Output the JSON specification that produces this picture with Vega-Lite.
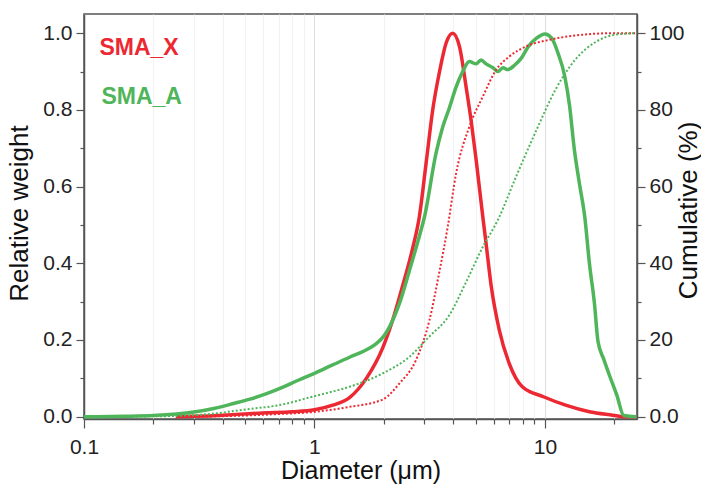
{
  "$schema": "https://vega.github.io/schema/vega-lite/v6.json",
  "width": 553,
  "height": 405,
  "autosize": {"type": "none"},
  "padding": {"left": 84, "top": 14, "right": 64, "bottom": 65},
  "background": "white",
  "config": {
    "font": "Liberation Sans",
    "view": {"stroke": "#555555", "strokeWidth": 1.5},
    "axis": {"domainColor": "#555555", "tickColor": "#555555", "domainWidth": 1.5, "tickWidth": 1.2, "labelColor": "#222222", "titleColor": "#111111", "labelFont": "Liberation Sans", "titleFont": "Liberation Sans", "labelFontSize": 21, "titleFontSize": 26, "titleFontWeight": "normal"}
  },
  "datasets": {
    "weight": [
      {"d": 0.25, "v": 0.0, "s": "SMA_X"},
      {"d": 0.3, "v": 0.001, "s": "SMA_X"},
      {"d": 0.4, "v": 0.004, "s": "SMA_X"},
      {"d": 0.52, "v": 0.008, "s": "SMA_X"},
      {"d": 0.62, "v": 0.01, "s": "SMA_X"},
      {"d": 0.8, "v": 0.013, "s": "SMA_X"},
      {"d": 1.0, "v": 0.018, "s": "SMA_X"},
      {"d": 1.2, "v": 0.03, "s": "SMA_X"},
      {"d": 1.42, "v": 0.05, "s": "SMA_X"},
      {"d": 1.68, "v": 0.1, "s": "SMA_X"},
      {"d": 1.98, "v": 0.18, "s": "SMA_X"},
      {"d": 2.18, "v": 0.25, "s": "SMA_X"},
      {"d": 2.41, "v": 0.34, "s": "SMA_X"},
      {"d": 2.67, "v": 0.44, "s": "SMA_X"},
      {"d": 2.85, "v": 0.52, "s": "SMA_X"},
      {"d": 3.05, "v": 0.66, "s": "SMA_X"},
      {"d": 3.26, "v": 0.8, "s": "SMA_X"},
      {"d": 3.49, "v": 0.9, "s": "SMA_X"},
      {"d": 3.73, "v": 0.975, "s": "SMA_X"},
      {"d": 3.98, "v": 1.0, "s": "SMA_X"},
      {"d": 4.26, "v": 0.965, "s": "SMA_X"},
      {"d": 4.55, "v": 0.86, "s": "SMA_X"},
      {"d": 4.79, "v": 0.77, "s": "SMA_X"},
      {"d": 5.03, "v": 0.67, "s": "SMA_X"},
      {"d": 5.38, "v": 0.52, "s": "SMA_X"},
      {"d": 5.56, "v": 0.45, "s": "SMA_X"},
      {"d": 5.85, "v": 0.34, "s": "SMA_X"},
      {"d": 6.34, "v": 0.226, "s": "SMA_X"},
      {"d": 7.0, "v": 0.139, "s": "SMA_X"},
      {"d": 7.98, "v": 0.078, "s": "SMA_X"},
      {"d": 9.86, "v": 0.052, "s": "SMA_X"},
      {"d": 12.3, "v": 0.03, "s": "SMA_X"},
      {"d": 15.6, "v": 0.013, "s": "SMA_X"},
      {"d": 19.7, "v": 0.004, "s": "SMA_X"},
      {"d": 22.0, "v": 0.0, "s": "SMA_X"},
      {"d": 25.0, "v": 0.0, "s": "SMA_X"},
      {"d": 0.1, "v": 0.0, "s": "SMA_A"},
      {"d": 0.15, "v": 0.001, "s": "SMA_A"},
      {"d": 0.2, "v": 0.003, "s": "SMA_A"},
      {"d": 0.3, "v": 0.012, "s": "SMA_A"},
      {"d": 0.37, "v": 0.022, "s": "SMA_A"},
      {"d": 0.45, "v": 0.035, "s": "SMA_A"},
      {"d": 0.52, "v": 0.045, "s": "SMA_A"},
      {"d": 0.62, "v": 0.06, "s": "SMA_A"},
      {"d": 0.73, "v": 0.077, "s": "SMA_A"},
      {"d": 0.85, "v": 0.095, "s": "SMA_A"},
      {"d": 1.0, "v": 0.113, "s": "SMA_A"},
      {"d": 1.2, "v": 0.135, "s": "SMA_A"},
      {"d": 1.42, "v": 0.155, "s": "SMA_A"},
      {"d": 1.65, "v": 0.172, "s": "SMA_A"},
      {"d": 1.85, "v": 0.19, "s": "SMA_A"},
      {"d": 2.0, "v": 0.21, "s": "SMA_A"},
      {"d": 2.12, "v": 0.235, "s": "SMA_A"},
      {"d": 2.34, "v": 0.296, "s": "SMA_A"},
      {"d": 2.58, "v": 0.38, "s": "SMA_A"},
      {"d": 2.85, "v": 0.47, "s": "SMA_A"},
      {"d": 3.0, "v": 0.52, "s": "SMA_A"},
      {"d": 3.37, "v": 0.687, "s": "SMA_A"},
      {"d": 3.6, "v": 0.755, "s": "SMA_A"},
      {"d": 3.85, "v": 0.805, "s": "SMA_A"},
      {"d": 4.12, "v": 0.86, "s": "SMA_A"},
      {"d": 4.4, "v": 0.9, "s": "SMA_A"},
      {"d": 4.7, "v": 0.926, "s": "SMA_A"},
      {"d": 5.03, "v": 0.92, "s": "SMA_A"},
      {"d": 5.28, "v": 0.93, "s": "SMA_A"},
      {"d": 5.56, "v": 0.92, "s": "SMA_A"},
      {"d": 5.95, "v": 0.91, "s": "SMA_A"},
      {"d": 6.25, "v": 0.9, "s": "SMA_A"},
      {"d": 6.58, "v": 0.91, "s": "SMA_A"},
      {"d": 6.9, "v": 0.905, "s": "SMA_A"},
      {"d": 7.4, "v": 0.917, "s": "SMA_A"},
      {"d": 7.9, "v": 0.935, "s": "SMA_A"},
      {"d": 8.47, "v": 0.965, "s": "SMA_A"},
      {"d": 9.2, "v": 0.987, "s": "SMA_A"},
      {"d": 10.0, "v": 0.998, "s": "SMA_A"},
      {"d": 10.7, "v": 0.987, "s": "SMA_A"},
      {"d": 11.4, "v": 0.948, "s": "SMA_A"},
      {"d": 12.2, "v": 0.887, "s": "SMA_A"},
      {"d": 12.8, "v": 0.81, "s": "SMA_A"},
      {"d": 13.4, "v": 0.7, "s": "SMA_A"},
      {"d": 14.1, "v": 0.61, "s": "SMA_A"},
      {"d": 14.9, "v": 0.52, "s": "SMA_A"},
      {"d": 15.6, "v": 0.4, "s": "SMA_A"},
      {"d": 16.4, "v": 0.296, "s": "SMA_A"},
      {"d": 17.0, "v": 0.196, "s": "SMA_A"},
      {"d": 18.0, "v": 0.15, "s": "SMA_A"},
      {"d": 19.0, "v": 0.11, "s": "SMA_A"},
      {"d": 20.5, "v": 0.057, "s": "SMA_A"},
      {"d": 22.0, "v": 0.003, "s": "SMA_A"},
      {"d": 25.0, "v": 0.0, "s": "SMA_A"}
    ],
    "cumulative": [
      {"d": 0.3, "c": 0.0, "s": "SMA_X"},
      {"d": 0.5, "c": 0.3, "s": "SMA_X"},
      {"d": 0.7, "c": 0.7, "s": "SMA_X"},
      {"d": 1.02, "c": 1.3, "s": "SMA_X"},
      {"d": 1.4, "c": 2.5, "s": "SMA_X"},
      {"d": 1.98, "c": 4.5, "s": "SMA_X"},
      {"d": 2.34, "c": 8.7, "s": "SMA_X"},
      {"d": 2.76, "c": 14.8, "s": "SMA_X"},
      {"d": 3.15, "c": 25.0, "s": "SMA_X"},
      {"d": 3.49, "c": 38.0, "s": "SMA_X"},
      {"d": 3.79, "c": 49.6, "s": "SMA_X"},
      {"d": 4.12, "c": 63.5, "s": "SMA_X"},
      {"d": 4.7, "c": 75.6, "s": "SMA_X"},
      {"d": 5.38, "c": 83.5, "s": "SMA_X"},
      {"d": 6.14, "c": 90.4, "s": "SMA_X"},
      {"d": 7.0, "c": 93.9, "s": "SMA_X"},
      {"d": 8.25, "c": 96.5, "s": "SMA_X"},
      {"d": 10.5, "c": 98.3, "s": "SMA_X"},
      {"d": 14.6, "c": 99.6, "s": "SMA_X"},
      {"d": 20.0, "c": 100.0, "s": "SMA_X"},
      {"d": 25.0, "c": 100.0, "s": "SMA_X"},
      {"d": 0.1, "c": 0.0, "s": "SMA_A"},
      {"d": 0.2, "c": 0.1, "s": "SMA_A"},
      {"d": 0.32, "c": 0.5, "s": "SMA_A"},
      {"d": 0.52, "c": 2.0, "s": "SMA_A"},
      {"d": 0.7, "c": 3.0, "s": "SMA_A"},
      {"d": 1.02, "c": 5.5, "s": "SMA_A"},
      {"d": 1.42, "c": 7.8, "s": "SMA_A"},
      {"d": 1.98, "c": 11.3, "s": "SMA_A"},
      {"d": 2.58, "c": 15.6, "s": "SMA_A"},
      {"d": 3.15, "c": 20.9, "s": "SMA_A"},
      {"d": 3.85, "c": 26.5, "s": "SMA_A"},
      {"d": 4.5, "c": 34.5, "s": "SMA_A"},
      {"d": 5.38, "c": 44.3, "s": "SMA_A"},
      {"d": 6.25, "c": 51.3, "s": "SMA_A"},
      {"d": 7.5, "c": 62.6, "s": "SMA_A"},
      {"d": 9.2, "c": 74.8, "s": "SMA_A"},
      {"d": 11.1, "c": 85.2, "s": "SMA_A"},
      {"d": 13.5, "c": 93.0, "s": "SMA_A"},
      {"d": 16.7, "c": 97.8, "s": "SMA_A"},
      {"d": 20.2, "c": 99.6, "s": "SMA_A"},
      {"d": 25.0, "c": 100.0, "s": "SMA_A"}
    ],
    "labels": [
      {"name": "SMA_X"},
      {"name": "SMA_A"}
    ]
  },
  "layer": [
    {
      "layer": [
        {
          "data": {"name": "weight"},
          "mark": {"type": "line", "strokeWidth": 3.5, "interpolate": "monotone"},
          "encoding": {
            "x": {"field": "d", "type": "quantitative", "scale": {"type": "log", "domain": [0.1, 25.1], "nice": false},
              "axis": {"title": "Diameter (μm)", "values": [0.1,0.2,0.3,0.4,0.5,0.6,0.7,0.8,0.9,1,2,3,4,5,6,7,8,9,10,20],
                "labelExpr": "datum.value == 0.1 ? '0.1' : datum.value == 1 ? '1' : datum.value == 10 ? '10' : ''",
                "tickSize": {"condition": {"test": "datum.value == 0.1 || datum.value == 1 || datum.value == 10", "value": 9}, "value": 5},
                "grid": true,
                "gridColor": {"condition": {"test": "datum.value == 1 || datum.value == 10", "value": "#dddddd"}, "value": "#f2f2f2"},
                "labelPadding": 8, "titlePadding": 1, "titleFontSize": 25, "labelFlush": false}},
            "y": {"field": "v", "type": "quantitative", "scale": {"domain": [-0.006, 1.05], "nice": false, "zero": false},
              "axis": {"title": "Relative weight", "orient": "left", "grid": false,
                "values": [0,0.1,0.2,0.3,0.4,0.5,0.6,0.7,0.8,0.9,1.0],
                "labelExpr": "round(datum.value*10) % 2 == 0 ? format(datum.value, '.1f') : ''",
                "tickSize": {"condition": {"test": "round(datum.value*10) % 2 == 0", "value": 8}, "value": 4},
                "labelPadding": 4, "titlePadding": 10, "titleY": 199}},
            "color": {"field": "s", "type": "nominal", "scale": {"domain": ["SMA_X", "SMA_A"], "range": ["#ec2833", "#4fb55a"]}, "legend": null}
          }
        },
        {
          "data": {"name": "labels"},
          "transform": [{"filter": "datum.name == 'SMA_X'"}],
          "mark": {"type": "text", "color": "#ec2833", "fontSize": 23, "fontWeight": "bold", "align": "left", "baseline": "middle", "font": "Liberation Sans"},
          "encoding": {
            "text": {"field": "name"},
            "x": {"datum": 0.1167, "type": "quantitative"},
            "y": {"datum": 0.962, "type": "quantitative"}
          }
        },
        {
          "data": {"name": "labels"},
          "transform": [{"filter": "datum.name == 'SMA_A'"}],
          "mark": {"type": "text", "color": "#4fb55a", "fontSize": 23, "fontWeight": "bold", "align": "left", "baseline": "middle", "font": "Liberation Sans"},
          "encoding": {
            "text": {"field": "name"},
            "x": {"datum": 0.119, "type": "quantitative"},
            "y": {"datum": 0.834, "type": "quantitative"}
          }
        }
      ]
    },
    {
      "data": {"name": "cumulative"},
      "mark": {"type": "line", "strokeWidth": 2, "strokeDash": [2, 2], "interpolate": "monotone"},
      "encoding": {
        "x": {"field": "d", "type": "quantitative"},
        "y": {"field": "c", "type": "quantitative", "scale": {"domain": [-0.6, 105], "nice": false, "zero": false},
          "axis": {"title": "Cumulative (%)", "orient": "right", "grid": false,
            "values": [0,10,20,30,40,50,60,70,80,90,100],
            "labelExpr": "datum.value == 0 ? '0.0' : datum.value % 20 == 0 ? format(datum.value, 'd') : ''",
            "tickSize": {"condition": {"test": "datum.value % 20 == 0", "value": 8}, "value": 4},
            "labelPadding": 4, "titleAngle": 270, "titleBaseline": "top", "titleAlign": "center", "titleX": 38, "titleY": 196}},
        "color": {"field": "s", "type": "nominal", "scale": {"domain": ["SMA_X", "SMA_A"], "range": ["#ec2833", "#4fb55a"]}, "legend": null}
      }
    }
  ],
  "resolve": {"scale": {"y": "independent"}, "axis": {"y": "independent"}}
}
